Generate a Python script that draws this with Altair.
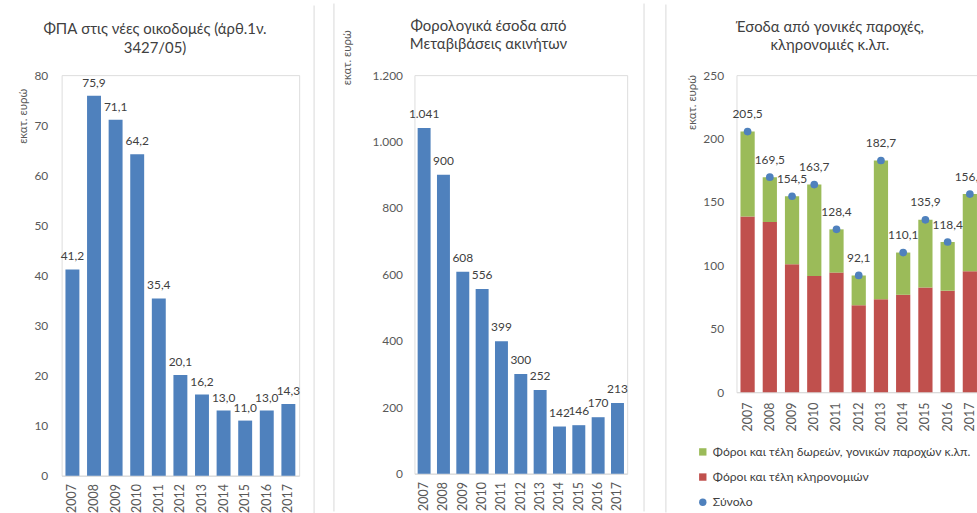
import altair as alt
import pandas as pd

# ---- data -------------------------------------------------------------
years = ["2007", "2008", "2009", "2010", "2011", "2012",
         "2013", "2014", "2015", "2016", "2017"]

# VAT on new buildings (mn euro)
vat_new_buildings = [41.2, 75.9, 71.1, 64.2, 35.4, 20.1, 16.2, 13.0, 11.0, 13.0, 14.3]
vat_ticks = [0, 10, 20, 30, 40, 50, 60, 70, 80]

# Tax revenue from property transfers (mn euro)
property_transfers = [1041, 900, 608, 556, 399, 300, 252, 142, 146, 170, 213]
transfer_ticks = [0, 200, 400, 600, 800, 1000, 1200]

# Revenue from gifts / parental grants / inheritance (mn euro)
inheritance_tax = [138.5, 134.1, 100.8, 91.7, 94.3, 68.5, 73.2, 76.8, 82.6, 80.0, 95.3]
totals = [205.5, 169.5, 154.5, 163.7, 128.4, 92.1, 182.7, 110.1, 135.9, 118.4, 156.2]
estate_ticks = [0, 50, 100, 150, 200, 250]

S_GIFTS = "Φόροι και τέλη δωρεών, γονικών παροχών κ.λπ."
S_INHERIT = "Φόροι και τέλη κληρονομιών"
S_TOTAL = "Σύνολο"
series_names = [S_GIFTS, S_INHERIT, S_TOTAL]
series_colors = ["#9bbb59", "#c0504d", "#4f81bd"]
series_shapes = ["square", "square", "circle"]

titles = [
    ["ΦΠΑ στις νέες οικοδομές (άρθ.1ν.", "3427/05)"],
    ["Φορολογικά έσοδα από", "Μεταβιβάσεις ακινήτων"],
    ["Έσοδα από γονικές παροχές,", "κληρονομιές κ.λπ."],
]
unit_title = "εκατ. ευρώ"

# ---- style ------------------------------------------------------------
FONT = "Lato"
TXT = "#404040"
AXC = "#595959"
LINE = "#d9d9d9"
BLUE = "#4f81bd"

one = pd.DataFrame({"k": [0]})


def cell_frame(left, right, top, bottom, borders):
    """Invisible edges that fix the panel's extent, plus light panel borders."""
    layers = []
    for xv in (left, right):
        layers.append(
            alt.Chart(one).mark_rule(strokeOpacity=0, color="white").encode(
                x=alt.value(xv), y=alt.value(top), y2=alt.value(bottom)))
    for xv in borders:
        layers.append(
            alt.Chart(one).mark_rule(color=LINE, strokeWidth=1).encode(
                x=alt.value(xv), y=alt.value(top + 1), y2=alt.value(bottom - 1)))
    return layers


def heading(lines, xv, yv):
    return alt.Chart(one).mark_text(
        text=lines, align="center", baseline="alphabetic", font=FONT,
        fontSize=15, color=TXT, lineHeight=18.5,
    ).encode(x=alt.value(xv), y=alt.value(yv))


def x_axis(pad):
    return alt.Axis(labelAngle=270, labelFont=FONT, labelFontSize=12.5,
                    labelColor=AXC, ticks=False, domainColor=LINE,
                    labelPadding=pad, grid=False, title=None)


def y_axis(values, fmt, tx, ty, pad):
    return alt.Axis(values=values, format=fmt, labelFont=FONT, labelFontSize=12,
                    labelColor=AXC, labelPadding=pad, ticks=False, domain=False,
                    grid=False, title=unit_title, titleAngle=270, titleX=tx,
                    titleY=ty, titleAlign="center", titleBaseline="middle",
                    titleFont=FONT, titleFontSize=11.5, titleFontWeight="normal",
                    titleColor=AXC)


# ---- panel 1: VAT on new buildings -------------------------------------
df1 = pd.DataFrame({"year": years, "value": vat_new_buildings})
x1 = alt.X("year:N", axis=x_axis(8),
           scale=alt.Scale(paddingInner=0.355, paddingOuter=0.1775))
y1 = alt.Y("value:Q", scale=alt.Scale(domain=[0, 80]),
           axis=y_axis(vat_ticks, "d", -38, 41, 14))
bars1 = alt.Chart(df1).mark_bar(color=BLUE).encode(x=x1, y=y1)
labels1 = alt.Chart(df1).mark_text(
    baseline="alphabetic", dy=-9, font=FONT, fontSize=12, color=TXT
).encode(x=x1, y=y1, text=alt.Text("value:Q", format=".1f"))
panel1 = alt.layer(
    *cell_frame(-61, 263, -71, 442, [254]),
    bars1, labels1, heading(titles[0], 94, -41),
).properties(width=239, height=403)

# ---- panel 2: property transfer taxes ----------------------------------
df2 = pd.DataFrame({"year": years, "value": property_transfers})
x2 = alt.X("year:N", axis=x_axis(8),
           scale=alt.Scale(paddingInner=0.33, paddingOuter=0.165))
y2 = alt.Y("value:Q", scale=alt.Scale(domain=[0, 1200]),
           axis=y_axis(transfer_ticks, ",d", -67, -18, 12))
bars2 = alt.Chart(df2).mark_bar(color=BLUE).encode(x=x2, y=y2)
labels2 = alt.Chart(df2).mark_text(
    baseline="alphabetic", dy=-10, font=FONT, fontSize=12, color=TXT
).encode(x=x2, y=y2, text=alt.Text("value:Q", format=",d"))
panel2 = alt.layer(
    *cell_frame(-90, 241, -73, 440, [-81, 231]),
    bars2, labels2, heading(titles[1], 74.5, -44.5),
).properties(width=214, height=401)

# ---- panel 3: gifts, parental grants and inheritance -------------------
stack_rows = []
for yr, inh, tot in zip(years, inheritance_tax, totals):
    stack_rows.append({"year": yr, "series": S_INHERIT, "value": inh, "order": 0})
    stack_rows.append({"year": yr, "series": S_GIFTS,
                       "value": round(tot - inh, 1), "order": 1})
df3 = pd.DataFrame(stack_rows)
df3t = pd.DataFrame({"year": years, "total": totals, "series": S_TOTAL})

legend3 = alt.Legend(title=None, orient="none", legendX=-40, legendY=373,
                     direction="vertical", labelFont=FONT, labelFontSize=12.2,
                     labelColor=TXT, labelLimit=500, symbolSize=55,
                     rowPadding=12.3, labelOffset=4, padding=0,
                     symbolStrokeWidth=0)
color3 = alt.Scale(domain=series_names, range=series_colors)
shape3 = alt.Scale(domain=series_names, range=series_shapes)

x3 = alt.X("year:N", axis=x_axis(10),
           scale=alt.Scale(paddingInner=0.36, paddingOuter=0.18))
axis3 = y_axis(estate_ticks, "d", -44, 27, 13)
bars3 = alt.Chart(df3).mark_bar().encode(
    x=x3,
    y=alt.Y("value:Q", stack="zero", scale=alt.Scale(domain=[0, 250]), axis=axis3),
    color=alt.Color("series:N", scale=color3, legend=legend3),
    order=alt.Order("order:Q"),
)
yt = alt.Y("total:Q", scale=alt.Scale(domain=[0, 250]), axis=axis3)
dots3 = alt.Chart(df3t).mark_point(filled=True, size=60, opacity=1).encode(
    x=x3, y=yt,
    color=alt.Color("series:N", scale=color3, legend=legend3),
    shape=alt.Shape("series:N", scale=shape3, legend=legend3),
)
labels3 = alt.Chart(df3t).mark_text(
    baseline="alphabetic", dy=-13.5, font=FONT, fontSize=12, color=TXT
).encode(x=x3, y=yt, text=alt.Text("total:Q", format=".1f"))
panel3 = alt.layer(
    *cell_frame(-81, 264, -72, 441, [-71]),
    bars3, dots3, labels3, heading(titles[2], 94, -43.7),
).properties(width=246, height=319)

chart = alt.hconcat(panel1, panel2, panel3, spacing=0).resolve_scale(
    color="independent", shape="independent"
).properties(
    padding={"left": 0, "top": 0, "right": -23, "bottom": 0},
    background="white",
).configure_view(stroke=None).configure(
    font=FONT,
    locale={"number": {"decimal": ",", "thousands": ".", "grouping": [3],
                       "currency": ["", " €"]}},
)

chart.save("out.html", embed_options={"renderer": "svg", "actions": False})
